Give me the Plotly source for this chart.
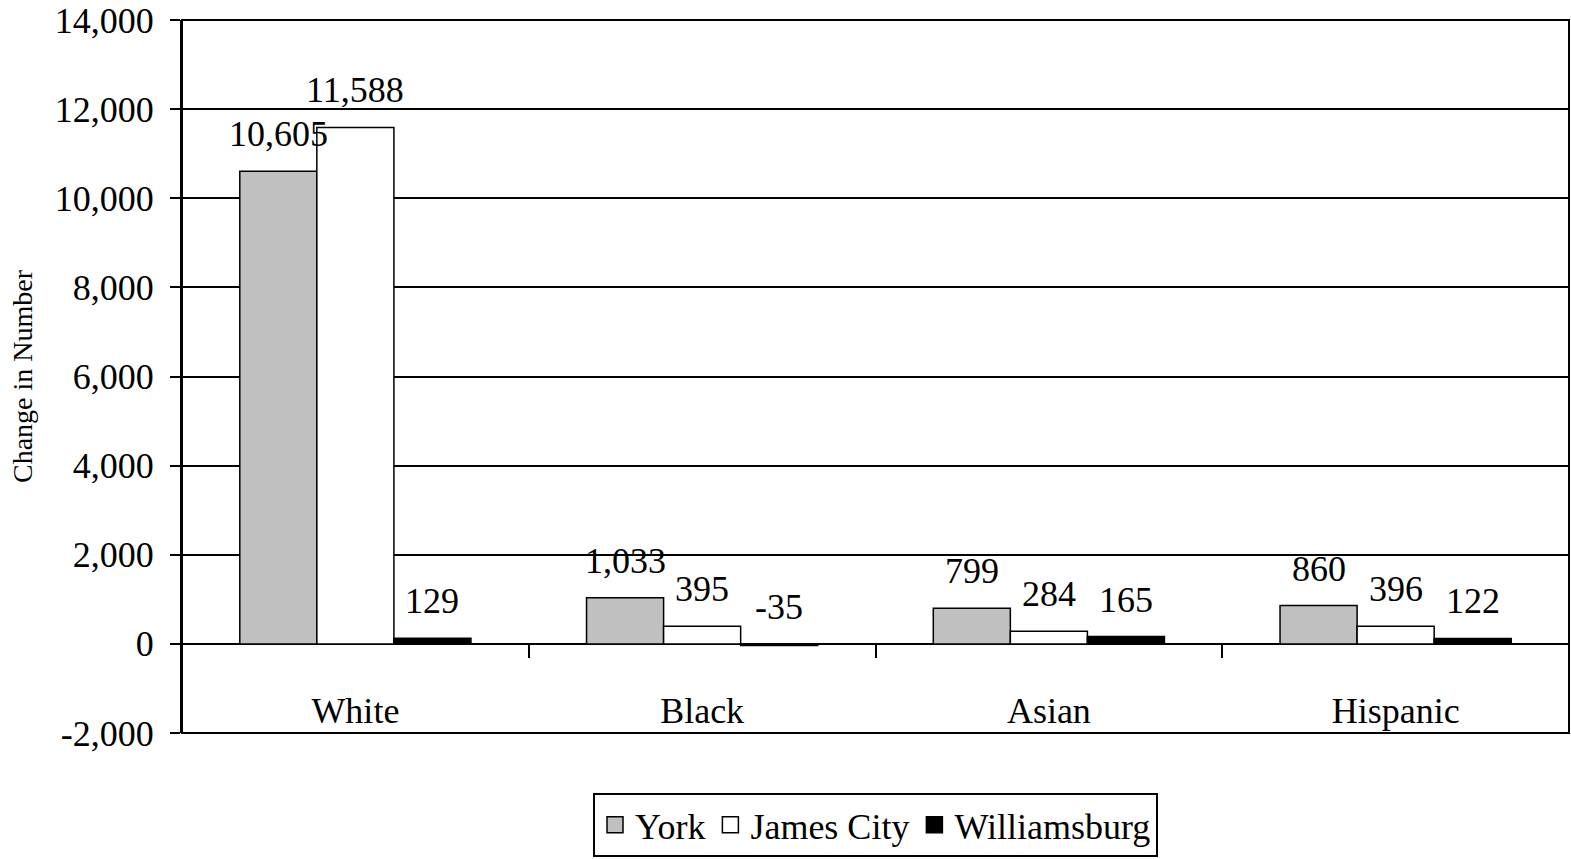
import plotly.graph_objects as go

categories = ["White", "Black", "Asian", "Hispanic"]
series_names = ["York", "James City", "Williamsburg"]
york = [10605, 1033, 799, 860]
james_city = [11588, 395, 284, 396]
williamsburg = [129, -35, 165, 122]
values = [york, james_city, williamsburg]
colors = ["#C0C0C0", "#FFFFFF", "#000000"]
y_ticks = list(range(-2000, 14001, 2000))
y_tick_text = [f"{v:,}" for v in y_ticks]  # hyphen-minus as in the original

FONT = "Liberation Serif, Times New Roman, serif"
FS = 36

fig = go.Figure()
for name, vals, col in zip(series_names, values, colors):
    fig.add_trace(go.Bar(
        name=name, x=categories, y=vals, showlegend=False,
        marker=dict(color=col, line=dict(color="black", width=1.5)),
    ))
# legend entries with larger square swatches
for name, col in zip(series_names, colors):
    fig.add_trace(go.Scatter(
        name=name, x=[None], y=[None], mode="markers",
        marker=dict(symbol="square", size=20, color=col, line=dict(color="black", width=1.5)),
    ))

# data labels (placed above bar top, or above zero for negatives)
bar_w = (2 / 3) / 3
annotations = []
for si, vals in enumerate(values):
    for ci, v in enumerate(vals):
        annotations.append(dict(
            x=ci + (si - 1) * bar_w, y=max(v, 0), xref="x", yref="y",
            text=f"{v:,}", showarrow=False, yanchor="bottom", yshift=15,
            font=dict(family=FONT, size=FS, color="black"),
        ))

fig.update_layout(
    width=1571, height=859,
    margin=dict(l=182, r=2, t=20, b=126, autoexpand=False),
    paper_bgcolor="white", plot_bgcolor="white",
    barmode="group", bargap=1 / 3, bargroupgap=0,
    font=dict(family=FONT, size=FS, color="black"),
    annotations=annotations,
    legend=dict(
        orientation="h", x=0.5, xanchor="center", y=-0.084, yanchor="top",
        bordercolor="black", borderwidth=2, font=dict(family=FONT, size=FS),
        bgcolor="white", itemsizing="trace",
    ),
    xaxis=dict(
        type="category", anchor="free", position=0.125, automargin=False,
        showline=False, showgrid=False, ticks="outside", tickson="boundaries",
        ticklen=13, tickwidth=2, tickcolor="black", ticklabelstandoff=42,
        tickfont=dict(family=FONT, size=FS),
    ),
    yaxis=dict(
        range=[-2000, 14000], tickvals=y_ticks, ticktext=y_tick_text, automargin=False,
        showgrid=True, gridcolor="black", gridwidth=2,
        zeroline=True, zerolinecolor="black", zerolinewidth=2,
        ticks="outside", ticklen=10, tickwidth=2, tickcolor="black",
        showline=True, linecolor="black", linewidth=2, ticklabelstandoff=9,
        ticklabeloverflow="allow",
        tickfont=dict(family=FONT, size=FS),
        title=dict(text="Change in Number", font=dict(family=FONT, size=28), standoff=14),
    ),
    shapes=[dict(type="rect", xref="paper", yref="paper", x0=0, x1=1, y0=0, y1=1,
                 line=dict(color="black", width=2), layer="above")],
)

# remove the default page margin so the figure fills the window exactly
fig.write_html("out.html", config={"displayModeBar": False},
               post_script="document.body.style.margin='0';")
